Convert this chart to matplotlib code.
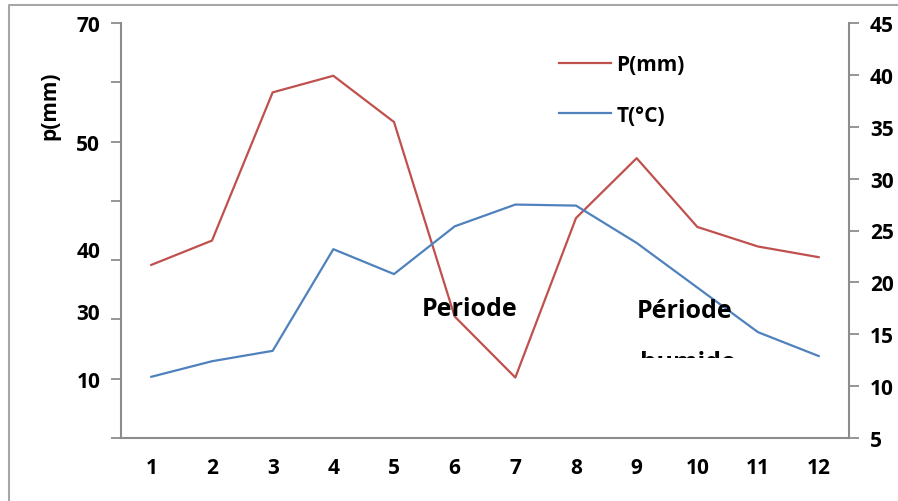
import matplotlib
matplotlib.use('Agg')
import matplotlib.pyplot as plt
from matplotlib.patches import Rectangle
from matplotlib.lines import Line2D

plt.rcParams['font.family'] = ['Open Sans', 'DejaVu Sans']
plt.rcParams['font.weight'] = 'bold'

months = [1, 2, 3, 4, 5, 6, 7, 8, 9, 10, 11, 12]
precip = [29.2, 33.3, 58.3, 61.1, 53.3, 20.5, 10.2, 37.1, 47.2, 35.6, 32.3, 30.5]
temp = [10.9, 12.4, 13.4, 23.2, 20.8, 25.4, 27.5, 27.4, 23.8, 19.5, 15.2, 12.9]

# left axis: tick marks every 10, but the printed labels sit where they sit
p_ticks = [0, 10, 20, 30, 40, 50, 60, 70]
p_label_pos = [70, 50, 31.95, 21.5, 9.9]
p_label_text = ['70', '50', '40', '30', '10']
t_ticks = [5, 10, 15, 20, 25, 30, 35, 40, 45]

red = '#C0504D'
blue = '#4F81BD'
grey = '#8C8C8C'

fig = plt.figure(figsize=(8.98, 5.02), dpi=100)
ax = fig.add_axes([121/898, 1 - 439/502, 728/898, 415/502])
ax2 = ax.twinx()

ax.plot(months, precip, color=red, lw=1.6)
ax2.plot(months, temp, color=blue, lw=1.6)

ax.set_xlim(0.5, 12.5)
ax.set_ylim(0, 70)
ax2.set_ylim(5, 45)

ax.set_xticks(months, [str(m) for m in months])
ax.tick_params(axis='x', length=0, pad=14, labelsize=15)
ax.yaxis.remove_overlapping_locs = False
ax.set_yticks(p_ticks, [''] * len(p_ticks))
ax.set_yticks(p_label_pos, p_label_text, minor=True)
ax.tick_params(axis='y', which='major', length=7, width=1.3, color=grey, direction='out')
ax.tick_params(axis='y', which='minor', length=0, pad=15, labelsize=15)
ax2.set_yticks(t_ticks, [str(t) for t in t_ticks])
ax2.tick_params(axis='y', length=7, width=1.3, color=grey, direction='out', pad=8, labelsize=15)

for a in (ax, ax2):
    a.spines['top'].set_visible(False)
    for s in ('left', 'right', 'bottom'):
        a.spines[s].set_color(grey)
        a.spines[s].set_linewidth(1.5)
ax.spines['right'].set_visible(False)
ax2.spines['left'].set_visible(False)
ax2.spines['bottom'].set_visible(False)

fig.text(50/898, 1 - 106/502, 'p(mm)', rotation=90, ha='center', va='center', fontsize=15, fontweight='bold')

handles = [Line2D([], [], color=red, lw=1.6), Line2D([], [], color=blue, lw=1.6)]
ax2.legend(handles, ['P(mm)', 'T(°C)'], loc='upper left', bbox_to_anchor=(559/898, 1 - 55/502),
           bbox_transform=fig.transFigure, frameon=False, fontsize=15, handlelength=2.5,
           handletextpad=0.25, labelspacing=1.42, borderaxespad=0, borderpad=0)

fig.text(470/898, 1 - 310/502, 'Periode', ha='center', va='center', fontsize=18, fontweight='bold')
fig.text(685/898, 1 - 311/502, 'Période', ha='center', va='center', fontsize=18, fontweight='bold')
# second line of the label box, cut off by the box edge
hum = fig.text(688/898, 1 - 351/502, 'humide', ha='center', va='top', fontsize=18, fontweight='bold')
clip = Rectangle((600, 502 - 358.5), 200, 25, transform=None)
hum.set_clip_path(clip)
hum.set_clip_on(True)

fig.add_artist(Line2D([9/898, 9/898, 1.0], [0.0, 1 - 6/502, 1 - 6/502], transform=fig.transFigure,
                      color='#A6A6A6', lw=1.5))

fig.savefig('out.png', dpi=100)
